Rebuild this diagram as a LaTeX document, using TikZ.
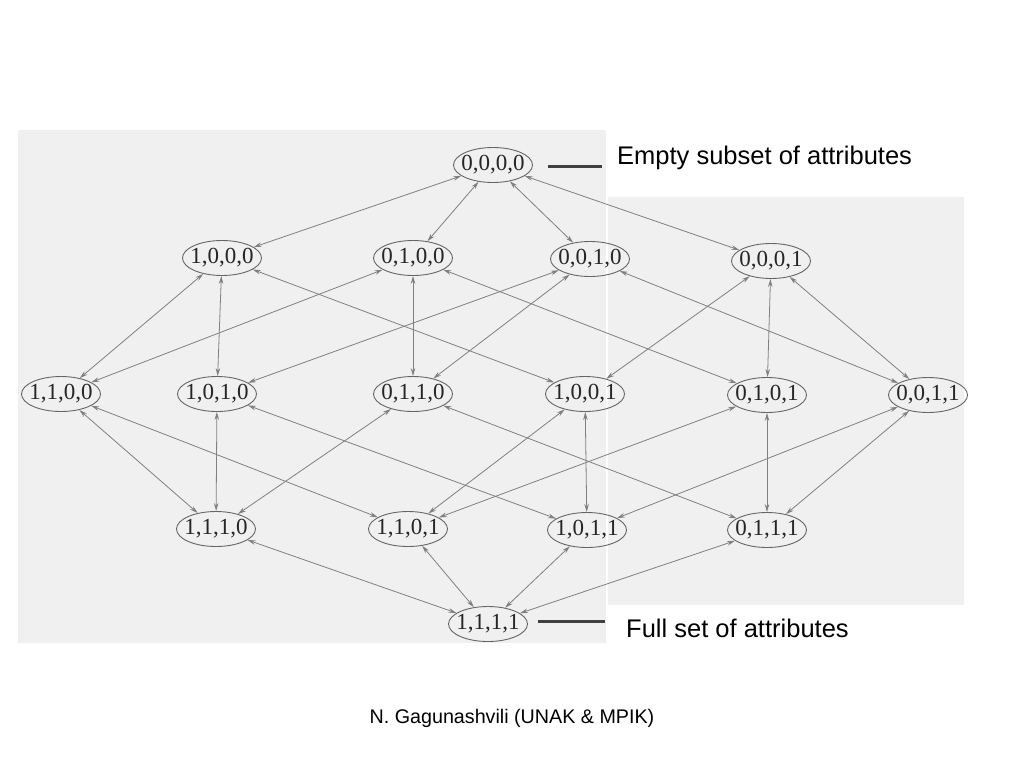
\documentclass[tikz,border=0pt]{standalone}
\usepackage{fontspec}
\setmainfont{Liberation Serif}
\newfontfamily\notefont{Liberation Sans}
\usetikzlibrary{shapes.geometric,arrows.meta}

\definecolor{paper}{RGB}{240,240,240}
\tikzset{
	vec/.style={ellipse,draw=black!60,line width=.9pt,text=black!85,minimum width=79pt,minimum height=35pt,inner xsep=-10pt,inner ysep=0pt,font=\fontsize{23}{25}\selectfont},
	link/.style={draw=black!50,line width=.8pt,{Stealth[length=8pt,width=4.5pt]}-{Stealth[length=8pt,width=4.5pt]}},
	pointer/.style={draw=black!75,line width=3pt},
	note/.style={inner sep=0pt,font=\notefont\fontsize{25.5}{28}\selectfont},
}

\begin{document}
\begin{tikzpicture}[x=1pt,y=-1pt]
	\useasboundingbox (0,0) rectangle (1024,768);
	% the two grey panels
	\fill[paper] (18,130) rectangle (606,643);
	\fill[paper] (608,197) rectangle (964,605);

	\node[vec] (v0000) at (493,165) {0,0,0,0};

	\node[vec] (v1000) at (222,258) {1,0,0,0};
	\node[vec] (v0100) at (413,258) {0,1,0,0};
	\node[vec] (v0010) at (590,259) {0,0,1,0};
	\node[vec] (v0001) at (771,261) {0,0,0,1};

	\node[vec] (v1100) at (61,394) {1,1,0,0};
	\node[vec] (v1010) at (217,394) {1,0,1,0};
	\node[vec] (v0110) at (413,394) {0,1,1,0};
	\node[vec] (v1001) at (585,394) {1,0,0,1};
	\node[vec] (v0101) at (767,395) {0,1,0,1};
	\node[vec] (v0011) at (928,395) {0,0,1,1};

	\node[vec] (v1110) at (216,529) {1,1,1,0};
	\node[vec] (v1101) at (408,529) {1,1,0,1};
	\node[vec] (v1011) at (587,530) {1,0,1,1};
	\node[vec] (v0111) at (767,530) {0,1,1,1};

	\node[vec] (v1111) at (488,624) {1,1,1,1};

	% empty set to singletons
	\draw[link] (v0000) -- (v1000); \draw[link] (v0000) -- (v0100);
	\draw[link] (v0000) -- (v0010); \draw[link] (v0000) -- (v0001);

	% singletons to pairs
	\draw[link] (v1000) -- (v1100); \draw[link] (v1000) -- (v1010); \draw[link] (v1000) -- (v1001);
	\draw[link] (v0100) -- (v1100); \draw[link] (v0100) -- (v0110); \draw[link] (v0100) -- (v0101);
	\draw[link] (v0010) -- (v1010); \draw[link] (v0010) -- (v0110); \draw[link] (v0010) -- (v0011);
	\draw[link] (v0001) -- (v1001); \draw[link] (v0001) -- (v0101); \draw[link] (v0001) -- (v0011);

	% pairs to triples
	\draw[link] (v1100) -- (v1110); \draw[link] (v1100) -- (v1101);
	\draw[link] (v1010) -- (v1110); \draw[link] (v1010) -- (v1011);
	\draw[link] (v0110) -- (v1110); \draw[link] (v0110) -- (v0111);
	\draw[link] (v1001) -- (v1101); \draw[link] (v1001) -- (v1011);
	\draw[link] (v0101) -- (v1101); \draw[link] (v0101) -- (v0111);
	\draw[link] (v0011) -- (v1011); \draw[link] (v0011) -- (v0111);

	% triples to full set
	\draw[link] (v1110) -- (v1111); \draw[link] (v1101) -- (v1111);
	\draw[link] (v1011) -- (v1111); \draw[link] (v0111) -- (v1111);

	% remarks
	\draw[pointer] ([xshift=15pt,yshift=-1pt]v0000.east) coordinate (p0) -- ++(54,0) coordinate (p1);
	\node[note,anchor=west] (empty) at (617,158) {Empty subset of attributes};
	\draw[pointer] ([xshift=10pt,yshift=3pt]v1111.east) coordinate (q0) -- ++(67,0) coordinate (q1);
	\node[note,anchor=west] (full) at (626,628) {Full set of attributes};

	\node[inner sep=0pt,font=\notefont\fontsize{19.7}{22}\selectfont] (author) at (512,718) {N. Gagunashvili (UNAK \& MPIK)};
\end{tikzpicture}
\end{document}
